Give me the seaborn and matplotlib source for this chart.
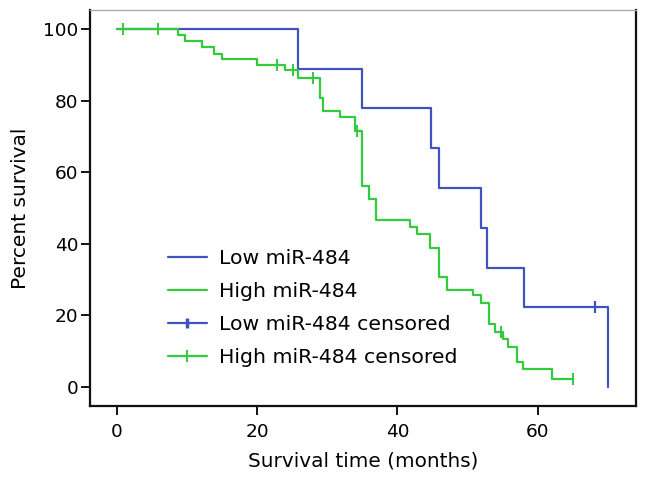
import matplotlib
matplotlib.use("Agg")
import matplotlib.pyplot as plt
import seaborn as sns
from matplotlib.lines import Line2D

# Low miR-484 group (Kaplan-Meier step points)
low_times = [0, 25.8, 35.0, 44.8, 46.0, 51.9, 52.8, 58.1, 70.0]
low_surv = [100, 88.9, 77.8, 66.7, 55.6, 44.4, 33.3, 22.2, 0]
low_cens_t = [68.1]
low_cens_s = [22.2]

# High miR-484 group
high_times = [0, 8.8, 9.7, 12.1, 13.8, 15.0, 20.0, 24.0, 25.9, 29.0, 29.4, 31.8,
              34.0, 34.9, 36.0, 37.0, 41.8, 42.8, 44.7, 46.0, 47.0, 50.8, 51.9,
              53.1, 53.9, 55.1, 55.8, 57.1, 57.9, 62.0, 65.0]
high_surv = [100, 98.4, 96.6, 95.0, 93.1, 91.7, 90.0, 88.6, 86.3, 80.6, 77.2, 75.5,
             71.6, 56.1, 52.4, 46.7, 44.7, 42.6, 38.7, 30.8, 27.0, 25.6, 23.3,
             17.4, 15.4, 13.3, 11.2, 7.0, 4.9, 2.2, 2.2]
high_cens_t = [0.9, 5.9, 22.8, 25.1, 28.0, 34.3, 54.8, 65.0]
high_cens_s = [100, 100, 90.0, 88.6, 86.3, 71.6, 15.4, 2.2]

labels = ["Low miR-484", "High miR-484", "Low miR-484 censored", "High miR-484 censored"]
x_ticks = [0, 20, 40, 60]
y_ticks = [0, 20, 40, 60, 80, 100]

BLUE = "#4052C0"
GREEN = "#33CA3B"

sns.set_style("ticks")
plt.rcParams["font.family"] = ["DejaVu Sans"]
plt.rcParams["text.color"] = "black"
plt.rcParams["axes.labelcolor"] = "black"
plt.rcParams["xtick.color"] = "black"
plt.rcParams["ytick.color"] = "black"

fig = plt.figure(figsize=(6.46, 4.86), dpi=100)
ax = fig.add_axes([90 / 646, 80 / 486, 546 / 646, 396 / 486])

sns.lineplot(x=low_times, y=low_surv, drawstyle="steps-post", color=BLUE,
             linewidth=1.6, estimator=None, sort=False, ax=ax)
sns.lineplot(x=high_times, y=high_surv, drawstyle="steps-post", color=GREEN,
             linewidth=1.6, estimator=None, sort=False, ax=ax)
ax.plot(low_cens_t, low_cens_s, linestyle="none", marker="|", markersize=8,
        markeredgewidth=1.6, color=BLUE)
ax.plot(high_cens_t, high_cens_s, linestyle="none", marker="|", markersize=9,
        markeredgewidth=1.4, color=GREEN)

ax.set_xlim(-3.8, 74.0)
ax.set_ylim(-5.4, 105.3)
ax.set_xticks(x_ticks)
ax.set_yticks(y_ticks)
ax.tick_params(axis="both", labelsize=13.3, length=6.5, width=1.3, colors="black",
               direction="out")
ax.tick_params(axis="x", pad=6)
ax.tick_params(axis="y", pad=2)

for s in ["left", "bottom", "right"]:
    ax.spines[s].set_color("#111111")
    ax.spines[s].set_linewidth(1.6)
ax.spines["top"].set_color("#aaaaaa")
ax.spines["top"].set_linewidth(1.0)

ax.set_xlabel("Survival time (months)", fontsize=14.4, labelpad=7, color="black")
ax.set_ylabel("Percent survival", fontsize=14.5, labelpad=9, color="black")

handles = [
    Line2D([], [], color=BLUE, linewidth=1.6),
    Line2D([], [], color=GREEN, linewidth=1.6),
    Line2D([], [], color=BLUE, linewidth=1.6, marker="|", markersize=7, markeredgewidth=2.5),
    Line2D([], [], color=GREEN, linewidth=1.6, marker="|", markersize=9, markeredgewidth=1.4),
]
leg = ax.legend(handles, labels, loc="center left", bbox_to_anchor=(0.143, 0.247),
                frameon=False, fontsize=14.7, handlelength=1.9, handletextpad=0.6,
                labelspacing=0.68, borderpad=0, borderaxespad=0)
for t in leg.get_texts():
    t.set_color("black")

fig.savefig("out.png", dpi=100)
